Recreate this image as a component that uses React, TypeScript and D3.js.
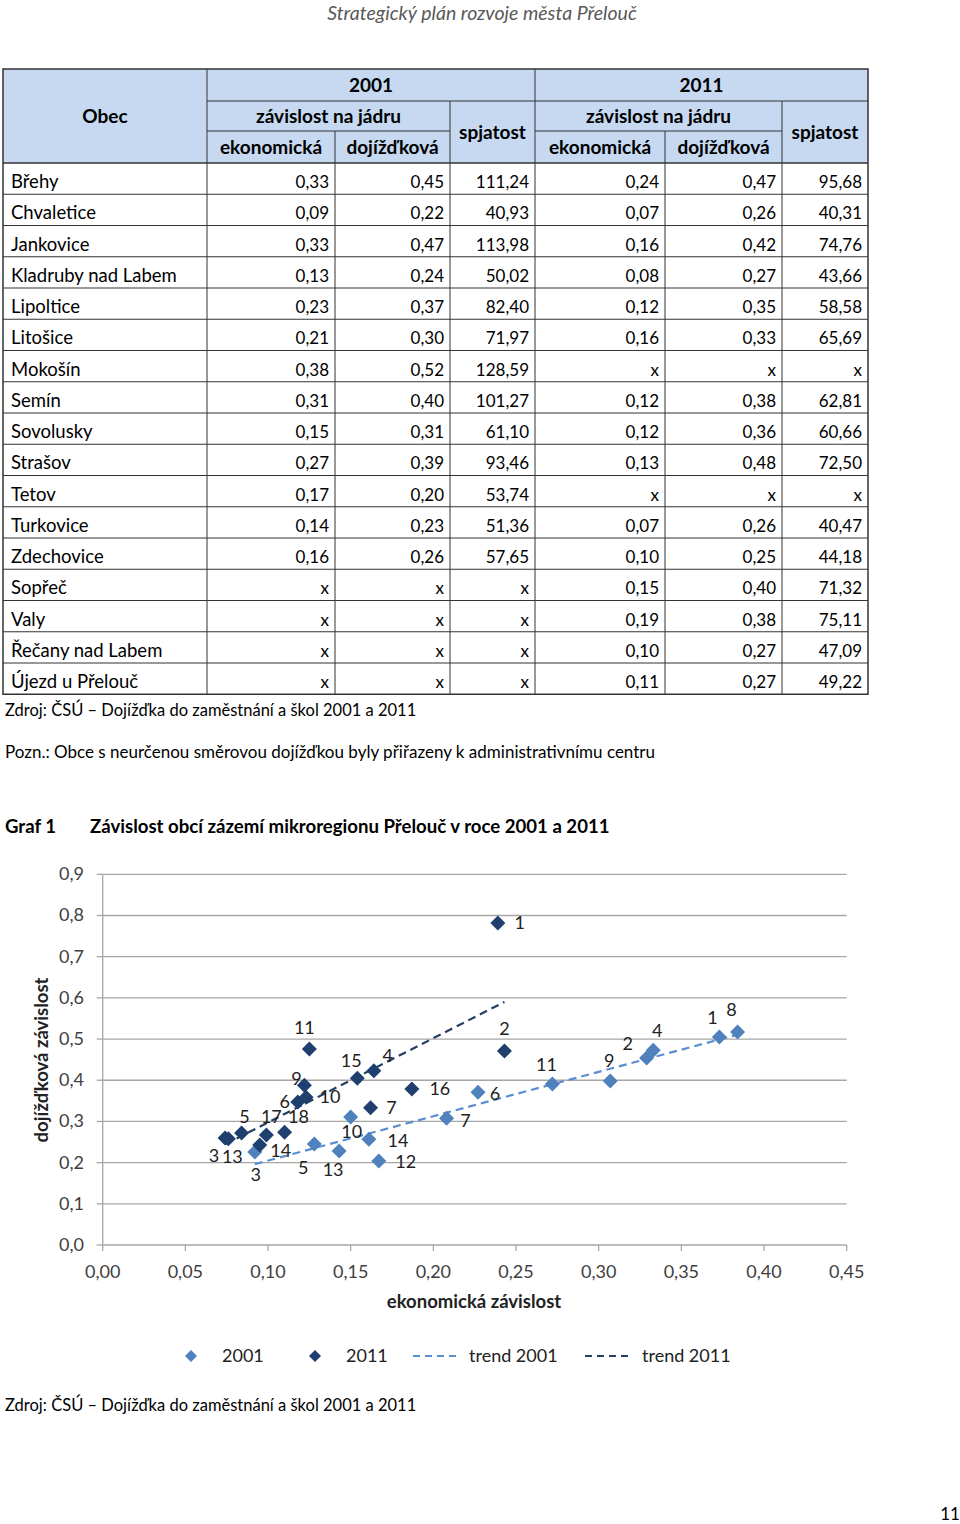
import React from "react";
import * as d3 from "d3";

// table data
const obce = [
  "Břehy", "Chvaletice", "Jankovice", "Kladruby nad Labem", "Lipoltice", "Litošice",
  "Mokošín", "Semín", "Sovolusky", "Strašov", "Tetov", "Turkovice", "Zdechovice",
  "Sopřeč", "Valy", "Řečany nad Labem", "Újezd u Přelouč",
];
const ekon2001 = ["0,33", "0,09", "0,33", "0,13", "0,23", "0,21", "0,38", "0,31", "0,15", "0,27", "0,17", "0,14", "0,16", "x", "x", "x", "x"];
const doj2001 = ["0,45", "0,22", "0,47", "0,24", "0,37", "0,30", "0,52", "0,40", "0,31", "0,39", "0,20", "0,23", "0,26", "x", "x", "x", "x"];
const spj2001 = ["111,24", "40,93", "113,98", "50,02", "82,40", "71,97", "128,59", "101,27", "61,10", "93,46", "53,74", "51,36", "57,65", "x", "x", "x", "x"];
const ekon2011 = ["0,24", "0,07", "0,16", "0,08", "0,12", "0,16", "x", "0,12", "0,12", "0,13", "x", "0,07", "0,10", "0,15", "0,19", "0,10", "0,11"];
const doj2011 = ["0,47", "0,26", "0,42", "0,27", "0,35", "0,33", "x", "0,38", "0,36", "0,48", "x", "0,26", "0,25", "0,40", "0,38", "0,27", "0,27"];
const spj2011 = ["95,68", "40,31", "74,76", "43,66", "58,58", "65,69", "x", "62,81", "60,66", "72,50", "x", "40,47", "44,18", "71,32", "75,11", "47,09", "49,22"];

// chart data
const labels2001 = ["1", "2", "3", "4", "5", "6", "7", "8", "9", "10", "11", "12", "13", "14"];
const x2001 = [0.373, 0.329, 0.092, 0.333, 0.128, 0.227, 0.208, 0.384, 0.307, 0.15, 0.272, 0.167, 0.143, 0.161];
const y2001 = [0.505, 0.454, 0.226, 0.473, 0.245, 0.371, 0.308, 0.517, 0.398, 0.311, 0.391, 0.204, 0.228, 0.257];
const labels2011 = ["1", "2", "3", "4", "5", "6", "7", "9", "10", "11", "13", "14", "15", "16", "17", "18"];
const x2011 = [0.239, 0.243, 0.074, 0.164, 0.084, 0.118, 0.162, 0.122, 0.123, 0.125, 0.076, 0.095, 0.154, 0.187, 0.099, 0.11];
const y2011 = [0.782, 0.471, 0.26, 0.423, 0.272, 0.347, 0.333, 0.388, 0.359, 0.476, 0.258, 0.243, 0.405, 0.379, 0.267, 0.274];
const xTicks = [0, 0.05, 0.1, 0.15, 0.2, 0.25, 0.3, 0.35, 0.4, 0.45];
const yTicks = [0, 0.1, 0.2, 0.3, 0.4, 0.5, 0.6, 0.7, 0.8, 0.9];

// label placement (pixel offsets from the marker)
const off2001: [number, number][] = [
  [-7, -19], [-19, -14], [1, 23], [4, -19], [-11, 24], [17, 2], [19, 3],
  [-6, -22], [-1, -20], [1, 15], [-6, -19], [27, 1], [-6, 19], [29, 2],
];
const off2011: [number, number][] = [
  [22, 0], [0, -22], [-11, 18], [14, -15], [3, -16], [-13, 0], [21, 0], [-8, -6],
  [24, 0], [-5, -21], [4, 18], [21, 6], [-6, -17], [28, 0], [5, -18], [14, -15],
];

const FONT = "Lato, 'Open Sans', sans-serif";
const LIGHT = "#4f81bd";
const DARK = "#1f3f6e";
const fmt = (v: number, d: number) => v.toFixed(d).replace(".", ",");

function fit(xs: number[], ys: number[]) {
  const mx = d3.mean(xs)!;
  const my = d3.mean(ys)!;
  const b = d3.sum(xs, (x, i) => (x - mx) * (ys[i] - my)) / d3.sum(xs, (x) => (x - mx) ** 2);
  const a = my - b * mx;
  const [x0, x1] = d3.extent(xs) as [number, number];
  return [
    [x0, a + b * x0],
    [x1, a + b * x1],
  ];
}

const Table = () => {
  const cols = [3, 207, 335, 450, 535, 665, 782, 868];
  const top = 69;
  const h1 = 101, h2 = 131, h3 = 163;
  const rowH = 31.25;
  const bottom = h3 + rowH * obce.length;
  const stroke = "#333";
  const hd = { fontFamily: FONT, fontWeight: 700, fontSize: 19, fill: "#000", textAnchor: "middle" as const };
  const valueCols = [ekon2001, doj2001, spj2001, ekon2011, doj2011, spj2011];
  return (
    <g>
      <rect x={cols[0]} y={top} width={cols[7] - cols[0]} height={h3 - top} fill="#c6d9f1" />
      {/* header lines */}
      <line x1={cols[1]} x2={cols[7]} y1={h1} y2={h1} stroke={stroke} />
      <line x1={cols[1]} x2={cols[3]} y1={h2} y2={h2} stroke={stroke} />
      <line x1={cols[4]} x2={cols[6]} y1={h2} y2={h2} stroke={stroke} />
      <line x1={cols[0]} x2={cols[7]} y1={h3} y2={h3} stroke={stroke} strokeWidth={1.5} />
      {[1, 4].map((c) => (
        <line key={c} x1={cols[c]} x2={cols[c]} y1={top} y2={bottom} stroke={stroke} />
      ))}
      {[3, 6].map((c) => (
        <line key={c} x1={cols[c]} x2={cols[c]} y1={h1} y2={bottom} stroke={stroke} />
      ))}
      {[2, 5].map((c) => (
        <line key={c} x1={cols[c]} x2={cols[c]} y1={h2} y2={bottom} stroke={stroke} />
      ))}
      <text {...hd} x={(cols[0] + cols[1]) / 2} y={123}>Obec</text>
      <text {...hd} x={(cols[1] + cols[4]) / 2} y={92}>2001</text>
      <text {...hd} x={(cols[4] + cols[7]) / 2} y={92}>2011</text>
      <text {...hd} x={(cols[1] + cols[3]) / 2} y={123}>závislost na jádru</text>
      <text {...hd} x={(cols[4] + cols[6]) / 2} y={123}>závislost na jádru</text>
      <text {...hd} x={(cols[3] + cols[4]) / 2} y={139}>spjatost</text>
      <text {...hd} x={(cols[6] + cols[7]) / 2} y={139}>spjatost</text>
      <text {...hd} x={(cols[1] + cols[2]) / 2} y={154}>ekonomická</text>
      <text {...hd} x={(cols[2] + cols[3]) / 2} y={154}>dojížďková</text>
      <text {...hd} x={(cols[4] + cols[5]) / 2} y={154}>ekonomická</text>
      <text {...hd} x={(cols[5] + cols[6]) / 2} y={154}>dojížďková</text>
      {obce.map((o, i) => {
        const y0 = h3 + i * rowH;
        return (
          <g key={o}>
            {i > 0 && <line x1={cols[0]} x2={cols[7]} y1={y0} y2={y0} stroke={stroke} />}
            <text x={11} y={y0 + 25} fontFamily={FONT} fontSize={18.5} fill="#000">{o}</text>
            {valueCols.map((vals, c) => (
              <text key={c} x={cols[c + 2] - 6} y={y0 + 25} fontFamily={FONT} fontSize={17} fill="#000" textAnchor="end">
                {vals[i]}
              </text>
            ))}
          </g>
        );
      })}
      <rect x={cols[0]} y={top} width={cols[7] - cols[0]} height={bottom - top} fill="none" stroke={stroke} strokeWidth={1.5} />
    </g>
  );
};

const Diamond = ({ x, y, r, fill }: { x: number; y: number; r: number; fill: string }) => (
  <path d={`M${x},${y - r}L${x + r},${y}L${x},${y + r}L${x - r},${y}Z`} fill={fill} />
);

const Scatter = () => {
  const xs = d3.scaleLinear().domain([0, 0.45]).range([102.7, 846.7]);
  const ys = d3.scaleLinear().domain([0, 0.9]).range([1245, 874.3]);
  const line = d3.line<number[]>().x((d) => xs(d[0])).y((d) => ys(d[1]));
  const t2001 = fit(x2001, y2001);
  const t2011 = fit(x2011, y2011);
  const txt = { fontFamily: FONT, fontSize: 18, fill: "#222" };
  return (
    <g>
      {yTicks.map((t) => (
        <g key={t}>
          {t > 0 && <line x1={xs(0)} x2={xs(0.45)} y1={ys(t)} y2={ys(t)} stroke="#a6a6a6" strokeWidth={1.3} />}
          <line x1={xs(0) - 6} x2={xs(0)} y1={ys(t)} y2={ys(t)} stroke="#a6a6a6" strokeWidth={1.3} />
          <text {...txt} x={84} y={ys(t) + 6} textAnchor="end" fill="#404040">{fmt(t, 1)}</text>
        </g>
      ))}
      <line x1={xs(0)} x2={xs(0)} y1={ys(0.9)} y2={ys(0)} stroke="#a6a6a6" strokeWidth={1.3} />
      <line x1={xs(0)} x2={xs(0.45)} y1={ys(0)} y2={ys(0)} stroke="#a6a6a6" strokeWidth={1.3} />
      {xTicks.map((t) => (
        <g key={t}>
          <line x1={xs(t)} x2={xs(t)} y1={ys(0)} y2={ys(0) + 6} stroke="#a6a6a6" strokeWidth={1.3} />
          <text {...txt} x={xs(t)} y={1278} textAnchor="middle" fill="#404040">{fmt(t, 2)}</text>
        </g>
      ))}
      <text x={474} y={1308} textAnchor="middle" fontFamily={FONT} fontWeight={700} fontSize={18.5} fill="#222">
        ekonomická závislost
      </text>
      <text
        transform="translate(48,1060) rotate(-90)"
        textAnchor="middle"
        fontFamily={FONT}
        fontWeight={700}
        fontSize={18.5}
        fill="#222"
      >
        dojížďková závislost
      </text>
      <path d={line(t2001)!} stroke="#5a8ed0" strokeWidth={2.2} strokeDasharray="8,5" fill="none" />
      <path d={line(t2011)!} stroke="#243f60" strokeWidth={2.2} strokeDasharray="8,5" fill="none" />
      {x2001.map((x, i) => (
        <g key={"a" + i}>
          <Diamond x={xs(x)} y={ys(y2001[i])} r={7.5} fill={LIGHT} />
          <text {...txt} x={xs(x) + off2001[i][0]} y={ys(y2001[i]) + off2001[i][1] + 6} textAnchor="middle">
            {labels2001[i]}
          </text>
        </g>
      ))}
      {x2011.map((x, i) => (
        <g key={"b" + i}>
          <Diamond x={xs(x)} y={ys(y2011[i])} r={7.5} fill={DARK} />
          <text {...txt} x={xs(x) + off2011[i][0]} y={ys(y2011[i]) + off2011[i][1] + 6} textAnchor="middle">
            {labels2011[i]}
          </text>
        </g>
      ))}
      {/* legend */}
      <Diamond x={191} y={1356} r={6} fill={LIGHT} />
      <text {...txt} x={222} y={1362}>2001</text>
      <Diamond x={315} y={1356} r={6} fill={DARK} />
      <text {...txt} x={346} y={1362}>2011</text>
      <line x1={413} x2={461} y1={1356} y2={1356} stroke="#5a8ed0" strokeWidth={2} strokeDasharray="7,5" />
      <text {...txt} x={469} y={1362}>trend 2001</text>
      <line x1={585} x2={633} y1={1356} y2={1356} stroke="#243f60" strokeWidth={2} strokeDasharray="7,5" />
      <text {...txt} x={642} y={1362}>trend 2011</text>
    </g>
  );
};

export default function App() {
  const body = { fontFamily: FONT, fontSize: 17, fill: "#000" };
  return (
    <svg width={960} height={1524} style={{ position: "absolute", left: 0, top: 0, background: "#fff" }}>
      <text x={482} y={20} textAnchor="middle" fontFamily={FONT} fontStyle="italic" fontSize={19.5} fill="#595959">
        Strategický plán rozvoje města Přelouč
      </text>
      <Table />
      <text {...body} x={5} y={716} fontSize={16.5}>Zdroj: ČSÚ – Dojížďka do zaměstnání a škol 2001 a 2011</text>
      <text {...body} x={5} y={758}>Pozn.: Obce s neurčenou směrovou dojížďkou byly přiřazeny k administrativnímu centru</text>
      <text {...body} x={5} y={833} fontWeight={700} fontSize={18.6}>Graf 1</text>
      <text {...body} x={90} y={833} fontWeight={700} fontSize={18.6}>Závislost obcí zázemí mikroregionu Přelouč v roce 2001 a 2011</text>
      <Scatter />
      <text {...body} x={5} y={1411} fontSize={16.5}>Zdroj: ČSÚ – Dojížďka do zaměstnání a škol 2001 a 2011</text>
      <text {...body} x={950} y={1520} textAnchor="middle">11</text>
    </svg>
  );
}
